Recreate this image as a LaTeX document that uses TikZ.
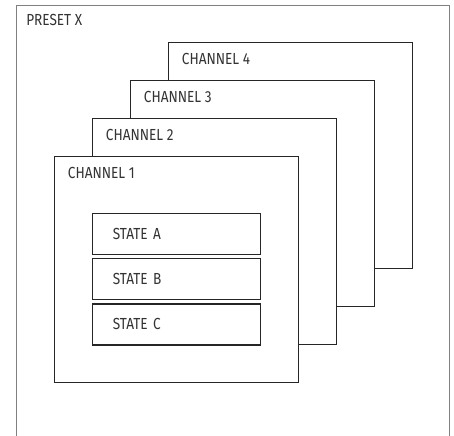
\documentclass[tikz,border=0pt]{standalone}
\usepackage{fontspec}
\setmainfont{Fira Sans}[FakeStretch=0.85]
\usetikzlibrary{positioning}

\tikzset{
  frame/.style={draw=black!50, line width=1.1pt, anchor=north west, inner sep=0pt},
  chanbox/.style={draw=black!85, fill=white, line width=0.8pt, minimum width=182.5pt, minimum height=169.5pt, anchor=north west, inner sep=0pt},
  statebox/.style={draw=black!85, line width=0.8pt, minimum width=126pt, minimum height=30.75pt, text width=96pt, inner xsep=15pt, align=left, text=black!80},
  tag/.style={anchor=base west, inner sep=0pt, text=black!80},
}

\begin{document}
\begin{tikzpicture}[x=0.75pt, y=-0.75pt, font=\fontsize{12}{14}\selectfont, node distance=2.25pt]
    \useasboundingbox (0,0) rectangle (454,436);

    % Preset frame (bottom runs off the page)
    \node[frame, minimum width=324.5pt, minimum height=330pt] (preset) at (16,4.5) {};
    \node[tag] (presetlabel) at ([xshift=7.5pt,yshift=-16pt]preset.north west) {PRESET X};

    % Channels, back to front
    \foreach \i in {4,3,2,1} {
        \node[chanbox] (chan\i) at ({54.3+38*(\i-1)},{156.3-38*(\i-1)}) {};
        \node[tag] (chanlabel\i) at ([xshift=10pt,yshift=-17pt]chan\i.north west) {CHANNEL \i};
    }

    % States inside channel 1
    \node[statebox, anchor=north west] (stateA) at ([xshift=28.5pt,yshift=-42.75pt]chan1.north west) {STATE A};
    \node[statebox, below=of stateA] (stateB) {STATE B};
    \node[statebox, below=of stateB] (stateC) {STATE C};
\end{tikzpicture}
\end{document}
